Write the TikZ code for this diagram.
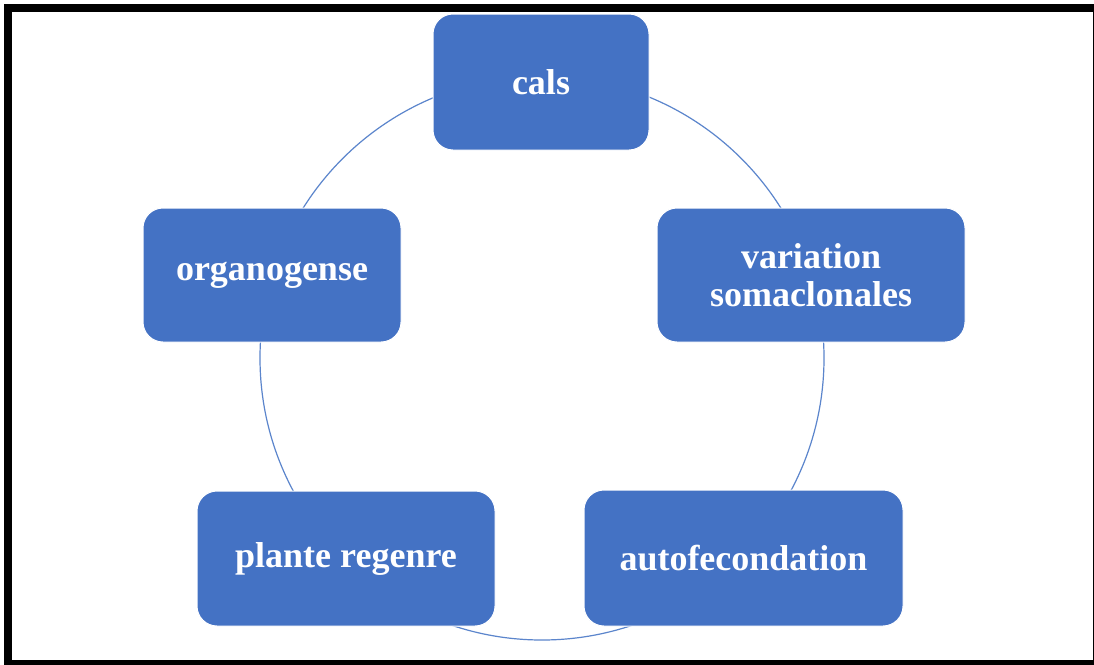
\documentclass[tikz,border=0pt]{standalone}
\usepackage{fontspec}
\setmainfont{Liberation Serif}
\definecolor{boxblue}{HTML}{4472C4}
\definecolor{ringblue}{HTML}{5B85CC}
\tikzset{
  stagebox/.style={rectangle, rounded corners=20pt, fill=boxblue, draw=white, line width=1pt,
    text=white, font=\bfseries\fontsize{36}{38}\selectfont, align=center, inner sep=0pt},
  ring/.style={draw=ringblue, line width=1.2pt},
  frame/.style={draw=black, line width=8pt}
}
\begin{document}
\begin{tikzpicture}[x=1pt,y=-1pt]
\useasboundingbox (0,0) rectangle (1094,664);
\fill[white] (0,0) rectangle (1094,664);
\begin{scope}
\clip (0,0) rectangle (1094,664);
\draw[frame] (8,8) rectangle (1096.5,664);
\end{scope}
\coordinate (ctr) at (542,358);
\draw[ring] (ctr) circle[radius=282pt];
\node[stagebox, minimum width=216pt, minimum height=136pt] (cals) at (541,82) {cals};
\node[stagebox, minimum width=308pt, minimum height=134pt] (var) at (811,275) {variation\\somaclonales};
\node[stagebox, minimum width=319pt, minimum height=136pt] (auto) at (743.5,558) {autofecondation};
\node[stagebox, minimum width=298pt, minimum height=135pt] (plante) at (346,558.5) {plante regenre};
\node[stagebox, minimum width=258pt, minimum height=134pt] (org) at (272,275) {organogense};
\end{tikzpicture}
\end{document}
